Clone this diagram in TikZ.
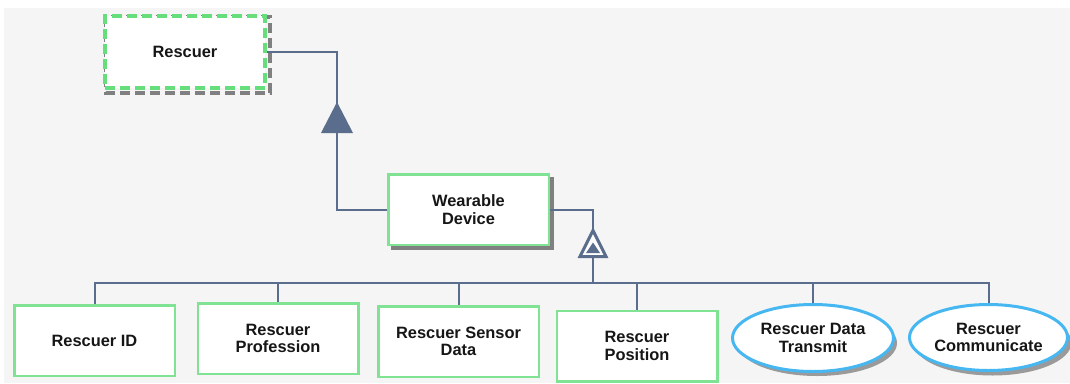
\documentclass[tikz,border=0pt]{standalone}
\usepackage{fontspec}
\setmainfont{Liberation Sans}
\usetikzlibrary{shapes.geometric}
\definecolor{canvas}{HTML}{F5F5F5}
\definecolor{boxgreen}{HTML}{80E393}
\definecolor{dashgreen}{HTML}{66DE7C}
\definecolor{ovalblue}{HTML}{47B7F2}
\definecolor{linkcol}{HTML}{5A6D8C}
\definecolor{shadowgray}{HTML}{808080}
\definecolor{txt}{HTML}{161616}
\pgfdeclarelayer{canvaslayer}
\pgfdeclarelayer{shadowlayer}
\pgfsetlayers{canvaslayer,shadowlayer,main}
\tikzset{
  label font/.style={font=\fontsize{16.4pt}{17.6pt}\selectfont\bfseries, text=txt, align=center},
  blockbox/.style={rectangle, draw=boxgreen, line width=2.5pt, fill=white,
    minimum width=160.5pt, minimum height=70.5pt, inner sep=0pt, label font},
  abstractbox/.style={rectangle, draw=dashgreen, line width=4pt, fill=white,
    dash pattern=on 10pt off 5pt, minimum width=160pt, minimum height=72pt,
    inner sep=0pt, label font},
  oval/.style={ellipse, draw=ovalblue, line width=3pt, fill=white,
    inner sep=0pt, label font},
  link/.style={draw=linkcol, line width=2pt},
}
\begin{document}
\begin{tikzpicture}[x=1pt,y=-1pt]
\useasboundingbox (0,0) rectangle (1070,383);
\begin{pgfonlayer}{canvaslayer}
  \fill[canvas] (4,8) rectangle (1070,383);
\end{pgfonlayer}

% classes
\node[abstractbox] (res) at (185,52) {Rescuer};
\node[blockbox] (wd) at (468.5,209.5) {Wearable\\Device};
\node[blockbox] (c1) at (94.5,340.5) {Rescuer ID};
\node[blockbox] (c2) at (278,338.5) {Rescuer\\Profession};
\node[blockbox] (c3) at (458.5,341.5) {Rescuer Sensor\\Data};
\node[blockbox] (c4) at (637,346) {Rescuer\\Position};
\node[oval, minimum width=161pt, minimum height=67pt] (c5) at (813,338) {Rescuer Data\\Transmit};
\node[oval, minimum width=158pt, minimum height=66pt] (c6) at (988.5,337.5) {Rescuer\\Communicate};

% shadows
\begin{pgfonlayer}{shadowlayer}
  \draw[shadowgray, line width=4pt, dash pattern=on 10pt off 5pt]
    ([shift={(3,3)}]res.north west) rectangle ([shift={(3,3)}]res.south east);
  \fill[shadowgray] ([shift={(4,4)}]wd.north west) rectangle ([shift={(4,4)}]wd.south east);
  \fill[shadowgray!80] ([shift={(4,5)}]c5.center) ellipse [x radius=80pt, y radius=33pt];
  \fill[shadowgray!80] ([shift={(4,5)}]c6.center) ellipse [x radius=79pt, y radius=33pt];
\end{pgfonlayer}

% Wearable Device specialises Rescuer
\coordinate (g1) at (337,117);
\draw[link] (res.east) -| (g1) |- (wd.west);
\fill[linkcol] ([shift={(0,-15)}]g1) -- ([shift={(16,16)}]g1) -- ([shift={(-16,16)}]g1) -- cycle;

% parts of Wearable Device
\coordinate (bus) at (593,283);
\coordinate (g2) at (593,243.5);
\draw[link] (wd.east) -| (bus);
\draw[link] (c1.north) |- (c6.north |- bus) -- (c6.north);
\foreach \c in {c2,c3,c4,c5}
  \draw[link] (\c.north) -- (\c.north |- bus);
\draw[linkcol, line width=3pt, fill=white, line join=miter]
  ([shift={(0,-13)}]g2) -- ([shift={(13,13)}]g2) -- ([shift={(-13,13)}]g2) -- cycle;
\fill[linkcol] ([shift={(0,-1)}]g2) -- ([shift={(7,9.5)}]g2) -- ([shift={(-7,9.5)}]g2) -- cycle;
\end{tikzpicture}
\end{document}
